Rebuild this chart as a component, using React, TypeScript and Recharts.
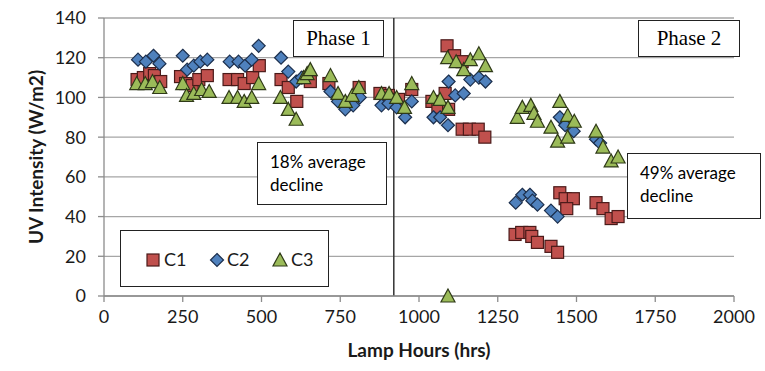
import { ScatterChart, Scatter, XAxis, YAxis, CartesianGrid, ReferenceLine } from 'recharts'

// Lamp hours / UV intensity readings.
const c1Hours = [105, 125, 145, 160, 180, 243, 259, 280, 301, 328, 397, 424, 445, 472, 493, 562, 585, 612, 645, 655, 714, 810, 876, 903, 935, 977, 1041, 1060, 1083, 1094, 1089, 1113, 1137, 1137, 1160, 1188, 1209, 1305, 1326, 1352, 1358, 1376, 1419, 1440, 1447, 1464, 1490, 1469, 1562, 1584, 1610, 1632]
const c1Values = [109, 110, 112, 111, 108, 110.5, 107, 106, 109, 111, 109, 109, 107, 110, 116, 109, 105, 98, 110, 108, 107, 105, 102, 101, 99, 104, 98, 95, 102, 94, 126, 121, 118, 84, 84, 84, 80, 31, 32, 32, 30, 27, 25, 22, 52, 49, 49, 44, 47, 44, 39, 40]

const c2Hours = [108, 133, 157, 176, 250, 264, 285, 306, 328, 399, 427, 448, 469, 491, 562, 585, 610, 628, 719, 743, 766, 791, 812, 881, 903, 929, 956, 977, 1046, 1067, 1092, 1094, 1115, 1142, 1163, 1190, 1211, 1447, 1464, 1491, 1562, 1575, 1307, 1328, 1352, 1360, 1376, 1419, 1440]
const c2Values = [119, 118, 121, 117, 121, 114, 116, 118, 119, 118, 118, 116, 119, 126, 120, 113, 108, 110, 103, 98, 94, 96, 100, 96, 97, 95, 90, 98, 90, 90, 86, 108, 101, 102, 109, 110, 108, 90, 86, 83, 79, 77, 47, 51, 51, 48, 46, 43, 40]

const c3Hours = [104, 131, 154, 177, 250, 262, 285, 310, 334, 397, 424, 445, 469, 491, 560, 585, 610, 634, 645, 655, 719, 743, 766, 788, 809, 881, 905, 929, 954, 977, 1046, 1067, 1092, 1092, 1091, 1118, 1142, 1163, 1190, 1211, 1312, 1328, 1355, 1365, 1376, 1419, 1440, 1447, 1472, 1472, 1493, 1562, 1584, 1610, 1632]
const c3Values = [107, 107, 108, 105, 107, 101, 102, 104, 103, 100, 100, 98, 100, 107, 100, 94, 89, 110, 112, 114, 111, 102, 98, 101, 105, 102, 102, 100, 95, 107, 100, 99, 95, 0, 120, 118, 114, 119, 122, 116, 90, 95, 96, 92, 88, 85, 78, 98, 91, 80, 88, 83, 75, 68, 70]

const xTicks = [0, 250, 500, 750, 1000, 1250, 1500, 1750, 2000]
const yTicks = [0, 20, 40, 60, 80, 100, 120, 140]

const toPoints = (hours: number[], values: number[]) => hours.map((x, i) => ({ x, y: values[i] }))

const SANS = 'Lato, "Noto Sans", sans-serif'
const SERIF = '"Liberation Serif", "Times New Roman", serif'

const RED = '#c0504d'
const BLUE = '#4f81bd'
const GREEN = '#9bbb59'

const Square = ({ cx, cy }: any) => (
  <rect x={cx - 6} y={cy - 6} width={12} height={12} fill={RED} stroke="#4a1a19" strokeWidth={1.2} />
)
const Diamond = ({ cx, cy }: any) => (
  <polygon points={`${cx},${cy - 6.5} ${cx + 6.5},${cy} ${cx},${cy + 6.5} ${cx - 6.5},${cy}`} fill={BLUE} stroke="#1c2f4d" strokeWidth={1.2} />
)
const Triangle = ({ cx, cy }: any) => (
  <polygon points={`${cx},${cy - 7} ${cx + 7},${cy + 6} ${cx - 7},${cy + 6}`} fill={GREEN} stroke="#2f3a18" strokeWidth={1.2} />
)

const box: React.CSSProperties = {
  position: 'absolute',
  background: '#fff',
  border: '1.5px solid #222',
  boxSizing: 'border-box',
}

export default function App() {
  return (
    <div style={{ position: 'absolute', left: 0, top: 0, width: 765, height: 371, background: '#fff' }}>
      <ScatterChart width={765} height={371} margin={{ top: 18, right: 31, left: 44, bottom: 45 }}>
        <CartesianGrid vertical={false} stroke="#a6a6a6" strokeWidth={1.3} />
        <XAxis
          type="number"
          dataKey="x"
          domain={[0, 2000]}
          ticks={xTicks}
          interval={0}
          tick={{ fill: '#1a1a1a', fontSize: 18, fontFamily: SANS }}
          tickSize={6}
          tickMargin={8}
          stroke="#8c8c8c"
          strokeWidth={1.3}
          label={{ value: 'Lamp Hours (hrs)', position: 'insideBottom', offset: -31, fill: '#1a1a1a', fontSize: 19, fontWeight: 700, fontFamily: SANS }}
        />
        <YAxis
          type="number"
          dataKey="y"
          domain={[0, 140]}
          ticks={yTicks}
          interval={0}
          width={60}
          tick={{ fill: '#1a1a1a', fontSize: 18, fontFamily: SANS }}
          tickSize={6}
          tickMargin={12}
          stroke="#8c8c8c"
          strokeWidth={1.3}
          label={{ value: 'UV Intensity (W/m2)', angle: -90, position: 'insideLeft', offset: -8, style: { textAnchor: 'middle' }, fill: '#1a1a1a', fontSize: 19, fontWeight: 700, fontFamily: SANS }}
        />
        <ReferenceLine x={920} stroke="#333" strokeWidth={1.5} />
        <Scatter name="C1" data={toPoints(c1Hours, c1Values)} shape={Square} isAnimationActive={false} />
        <Scatter name="C2" data={toPoints(c2Hours, c2Values)} shape={Diamond} isAnimationActive={false} />
        <Scatter name="C3" data={toPoints(c3Hours, c3Values)} shape={Triangle} isAnimationActive={false} />
      </ScatterChart>

      <div style={{ ...box, left: 293, top: 20, width: 91, height: 37, fontFamily: SERIF, fontSize: 21, textAlign: 'center', lineHeight: '35px' }}>
        Phase 1
      </div>
      <div style={{ ...box, left: 638, top: 20, width: 102, height: 37, fontFamily: SERIF, fontSize: 21, textAlign: 'center', lineHeight: '35px' }}>
        Phase 2
      </div>
      <div style={{ ...box, left: 257, top: 142, width: 130, height: 63, fontFamily: SANS, fontSize: 17, padding: '7px 0 0 12px', lineHeight: '23px' }}>
        18% average
        <br />
        decline
      </div>
      <div style={{ ...box, left: 627, top: 153, width: 134, height: 66, fontFamily: SANS, fontSize: 17, padding: '7px 0 0 12px', lineHeight: '23px' }}>
        49% average
        <br />
        decline
      </div>

      <div style={{ ...box, left: 120, top: 230, width: 209, height: 57, fontFamily: SANS, fontSize: 17, color: '#1a1a1a' }}>
        <svg width={209} height={57} style={{ position: 'absolute', left: 0, top: 0 }}>
          <Square cx={32} cy={29} />
          <text x={43} y={35} fontSize={18} fontFamily={SANS} fill="#1a1a1a">C1</text>
          <Diamond cx={96} cy={29} />
          <text x={106} y={35} fontSize={18} fontFamily={SANS} fill="#1a1a1a">C2</text>
          <Triangle cx={159} cy={29} />
          <text x={170} y={35} fontSize={18} fontFamily={SANS} fill="#1a1a1a">C3</text>
        </svg>
      </div>
    </div>
  )
}
